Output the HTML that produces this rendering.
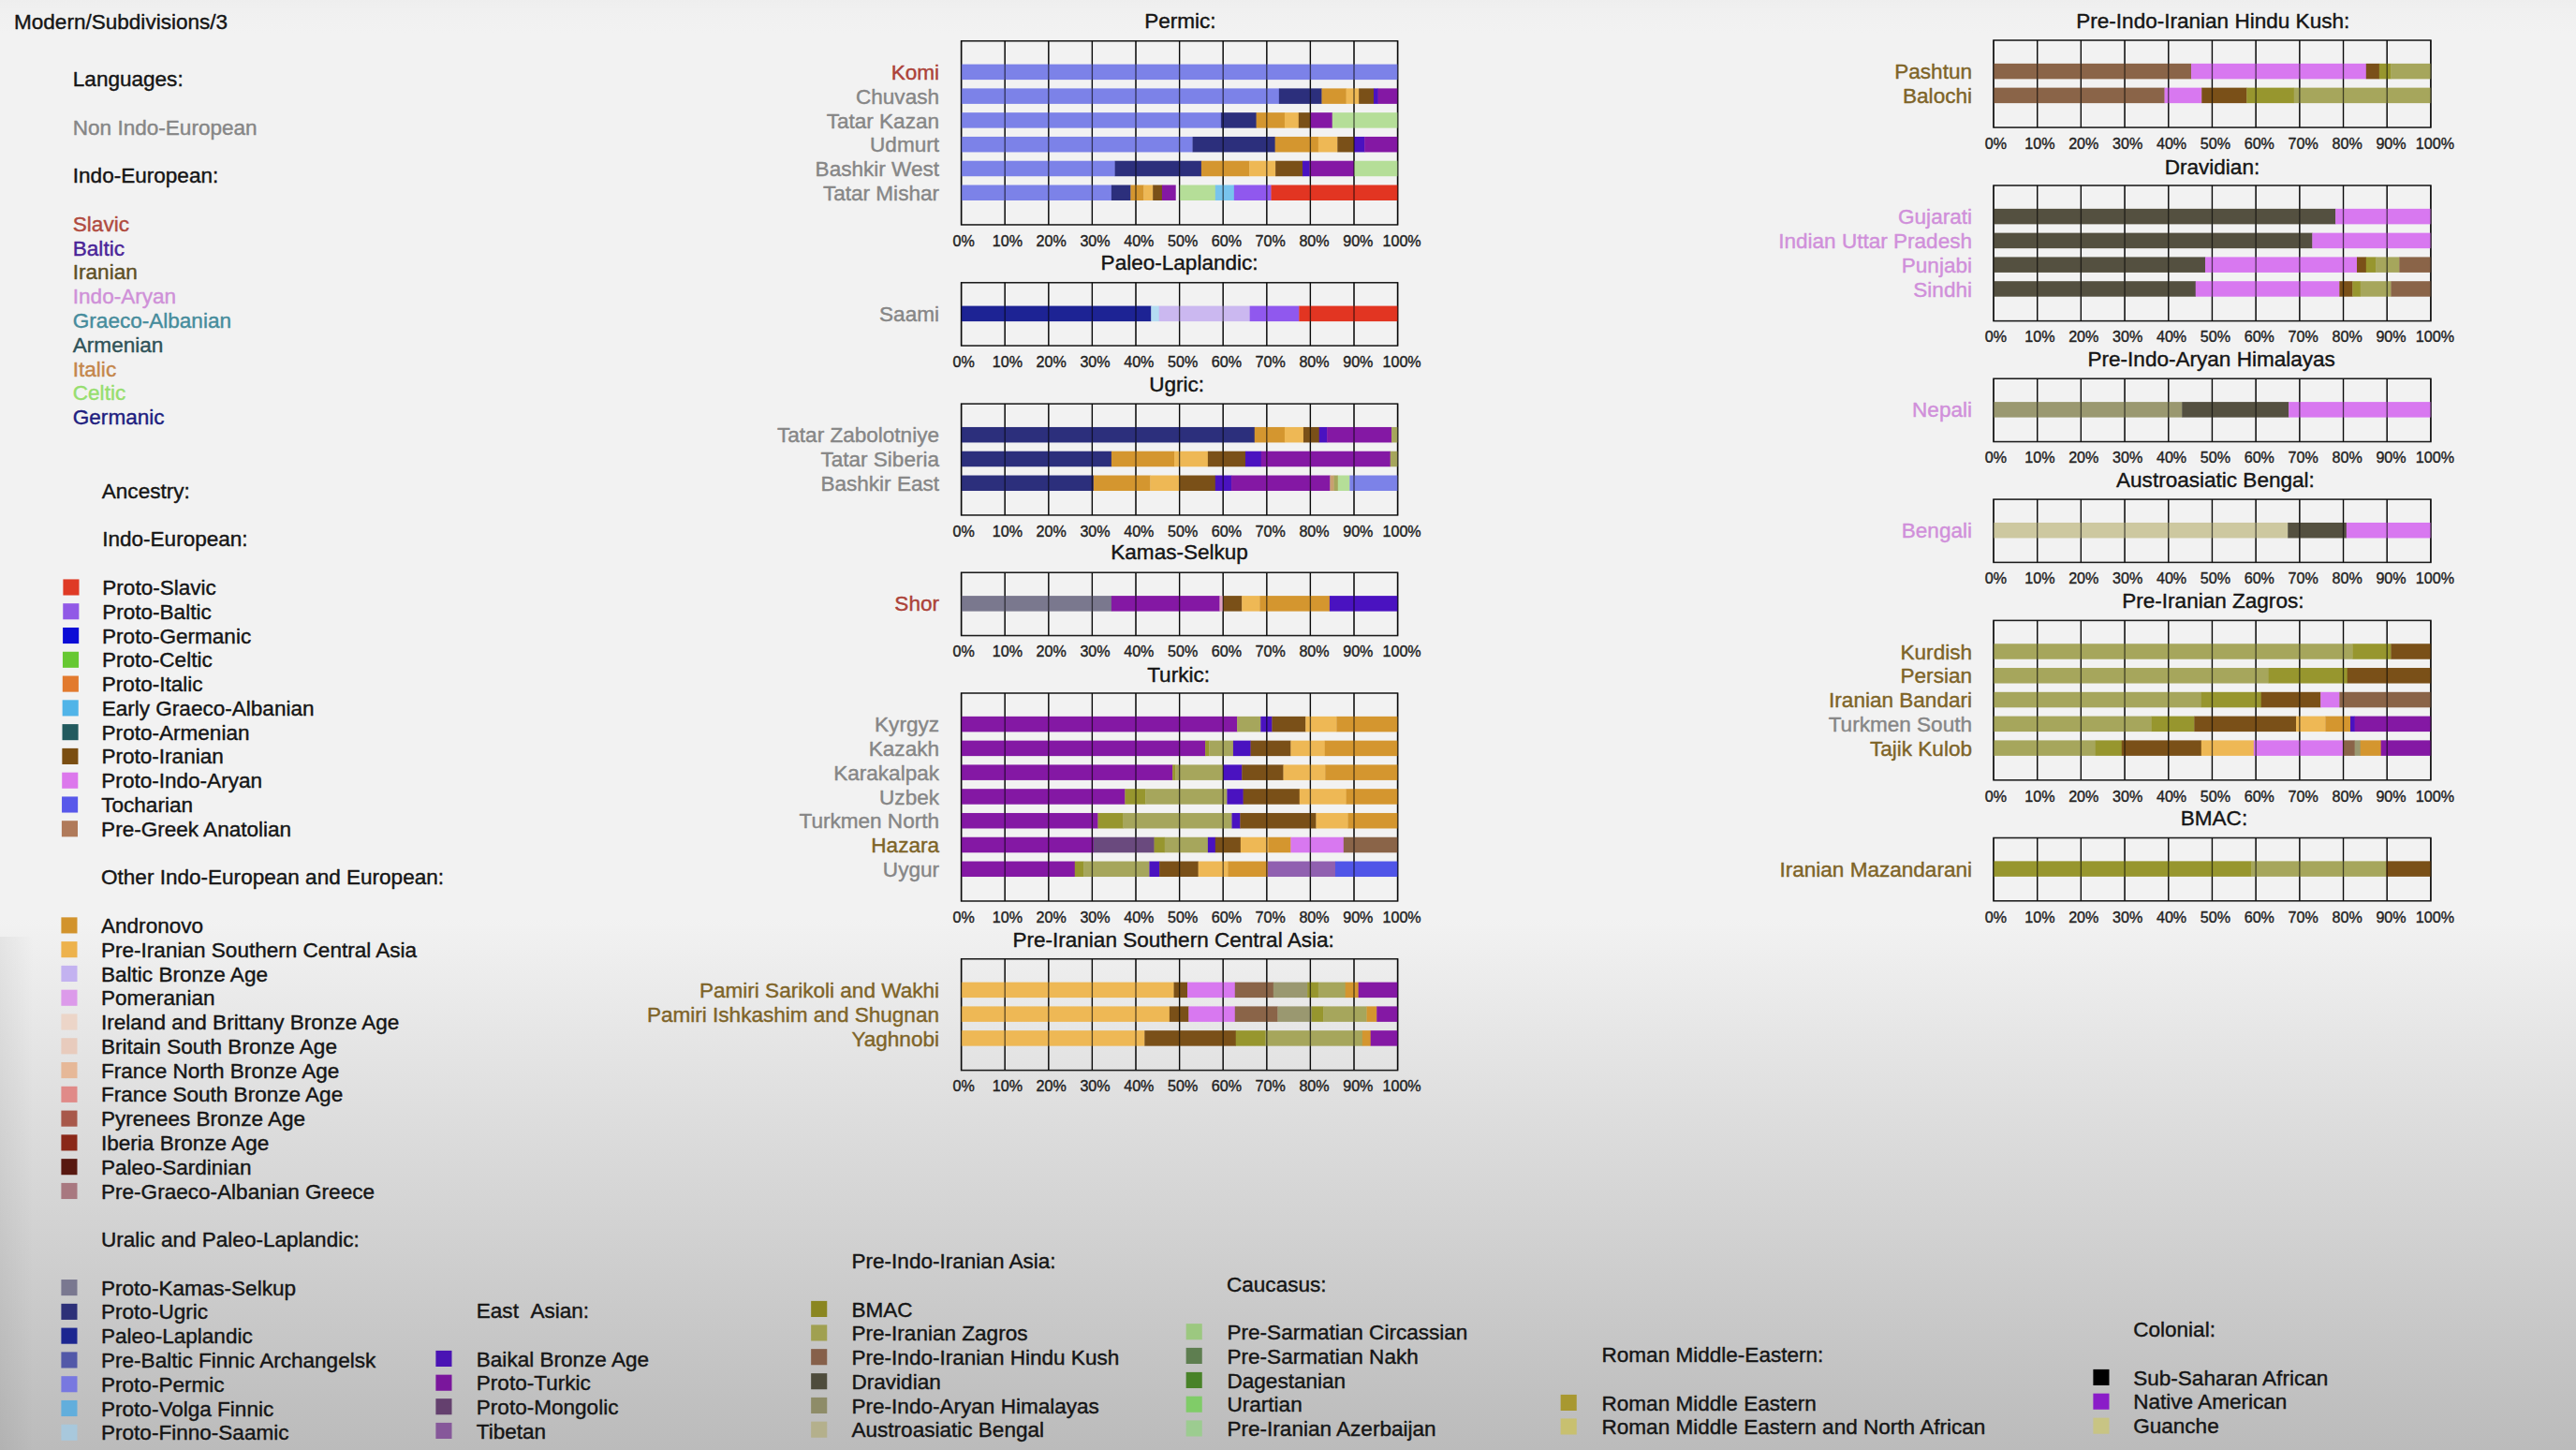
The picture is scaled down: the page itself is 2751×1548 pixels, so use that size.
<!DOCTYPE html>
<html><head><meta charset="utf-8"><title>Modern/Subdivisions/3</title>
<style>
html,body{margin:0;padding:0}
body{width:2751px;height:1548px;overflow:hidden;background:#f2f2f2}
#bg{position:absolute;left:0;top:0;width:2751px;height:1548px;background:linear-gradient(to bottom,#eeeeee 0px,#f0f0f0 10px,#f2f2f2 36px,#f2f2f2 980px,#bbbbbb 1548px)}
#vg{position:absolute;left:0;top:1000px;width:36px;height:548px;background:linear-gradient(to right,rgba(0,0,0,0.05),rgba(0,0,0,0))}
svg{position:absolute;left:0;top:0;font-family:"Liberation Sans", sans-serif}
text{stroke-width:0.4px;stroke-linejoin:round}
</style></head><body>
<div id="bg"></div><div id="vg"></div>
<svg width="2751" height="1548" viewBox="0 0 2751 1548">
<text x="1260.40" y="30.00" fill="#151515" stroke="#151515" font-size="22.55" text-anchor="middle">Permic:</text>
<path d="M1073.20 43.75V239.95M1119.80 43.75V239.95M1166.40 43.75V239.95M1213.00 43.75V239.95M1259.60 43.75V239.95M1306.20 43.75V239.95M1352.80 43.75V239.95M1399.40 43.75V239.95M1446.00 43.75V239.95" stroke="#1c1c1c" stroke-width="1.25" fill="none"/>
<rect x="1026.60" y="43.75" width="466.00" height="196.20" stroke="#1c1c1c" stroke-width="1.55" fill="none"/>
<text x="1003.00" y="84.95" fill="#ac4238" stroke="#ac4238" font-size="22.55" text-anchor="end">Komi</text>
<rect x="1026.60" y="68.60" width="466.30" height="16.5" fill="#7c82e8"/>
<text x="1003.00" y="110.73" fill="#868686" stroke="#868686" font-size="22.55" text-anchor="end">Chuvash</text>
<rect x="1026.60" y="94.38" width="339.55" height="16.5" fill="#7c82e8"/>
<rect x="1365.85" y="94.38" width="45.97" height="16.5" fill="#2c2f7c"/>
<rect x="1411.52" y="94.38" width="26.40" height="16.5" fill="#d4962f"/>
<rect x="1437.61" y="94.38" width="13.81" height="16.5" fill="#eeb855"/>
<rect x="1451.13" y="94.38" width="16.14" height="16.5" fill="#7a5018"/>
<rect x="1466.97" y="94.38" width="4.96" height="16.5" fill="#4a12c0"/>
<rect x="1471.63" y="94.38" width="21.27" height="16.5" fill="#8418a4"/>
<text x="1003.00" y="136.51" fill="#868686" stroke="#868686" font-size="22.55" text-anchor="end">Tatar Kazan</text>
<rect x="1026.60" y="120.16" width="277.57" height="16.5" fill="#7c82e8"/>
<rect x="1303.87" y="120.16" width="38.05" height="16.5" fill="#2c2f7c"/>
<rect x="1341.62" y="120.16" width="30.59" height="16.5" fill="#d4962f"/>
<rect x="1371.91" y="120.16" width="15.21" height="16.5" fill="#eeb855"/>
<rect x="1386.82" y="120.16" width="12.88" height="16.5" fill="#7a5018"/>
<rect x="1399.40" y="120.16" width="23.60" height="16.5" fill="#8418a4"/>
<rect x="1422.70" y="120.16" width="70.20" height="16.5" fill="#b5de98"/>
<text x="1003.00" y="162.29" fill="#868686" stroke="#868686" font-size="22.55" text-anchor="end">Udmurt</text>
<rect x="1026.60" y="145.94" width="247.28" height="16.5" fill="#7c82e8"/>
<rect x="1273.58" y="145.94" width="88.37" height="16.5" fill="#2c2f7c"/>
<rect x="1361.65" y="145.94" width="46.43" height="16.5" fill="#d4962f"/>
<rect x="1407.79" y="145.94" width="20.80" height="16.5" fill="#eeb855"/>
<rect x="1428.29" y="145.94" width="18.01" height="16.5" fill="#7a5018"/>
<rect x="1446.00" y="145.94" width="11.48" height="16.5" fill="#4a12c0"/>
<rect x="1457.18" y="145.94" width="35.72" height="16.5" fill="#8418a4"/>
<text x="1003.00" y="188.07" fill="#868686" stroke="#868686" font-size="22.55" text-anchor="end">Bashkir West</text>
<rect x="1026.60" y="171.72" width="164.33" height="16.5" fill="#7c82e8"/>
<rect x="1190.63" y="171.72" width="92.57" height="16.5" fill="#2c2f7c"/>
<rect x="1282.90" y="171.72" width="51.56" height="16.5" fill="#d4962f"/>
<rect x="1334.16" y="171.72" width="28.26" height="16.5" fill="#eeb855"/>
<rect x="1362.12" y="171.72" width="29.19" height="16.5" fill="#7a5018"/>
<rect x="1391.01" y="171.72" width="7.76" height="16.5" fill="#4a12c0"/>
<rect x="1398.47" y="171.72" width="47.83" height="16.5" fill="#8418a4"/>
<rect x="1446.00" y="171.72" width="46.90" height="16.5" fill="#b5de98"/>
<text x="1003.00" y="213.85" fill="#868686" stroke="#868686" font-size="22.55" text-anchor="end">Tatar Mishar</text>
<rect x="1026.60" y="197.50" width="160.60" height="16.5" fill="#7c82e8"/>
<rect x="1186.90" y="197.50" width="20.80" height="16.5" fill="#2c2f7c"/>
<rect x="1207.41" y="197.50" width="14.28" height="16.5" fill="#d4962f"/>
<rect x="1221.39" y="197.50" width="10.09" height="16.5" fill="#eeb855"/>
<rect x="1231.17" y="197.50" width="10.09" height="16.5" fill="#7a5018"/>
<rect x="1240.96" y="197.50" width="14.75" height="16.5" fill="#8418a4"/>
<rect x="1259.60" y="197.50" width="38.51" height="16.5" fill="#b5de98"/>
<rect x="1297.81" y="197.50" width="20.34" height="16.5" fill="#78c4ee"/>
<rect x="1317.85" y="197.50" width="39.91" height="16.5" fill="#9058ee"/>
<rect x="1357.46" y="197.50" width="135.44" height="16.5" fill="#e23522"/>
<path d="M1073.20 43.75V239.95M1119.80 43.75V239.95M1166.40 43.75V239.95M1213.00 43.75V239.95M1259.60 43.75V239.95M1306.20 43.75V239.95M1352.80 43.75V239.95M1399.40 43.75V239.95M1446.00 43.75V239.95M1492.60 43.75V239.95M1026.60 43.75V239.95" stroke="#000" stroke-opacity="0.62" stroke-width="1.3" fill="none"/>
<text x="1029.10" y="262.75" fill="#222" stroke="#222" font-size="16.1" text-anchor="middle">0%</text>
<text x="1075.90" y="262.75" fill="#222" stroke="#222" font-size="16.1" text-anchor="middle">10%</text>
<text x="1122.70" y="262.75" fill="#222" stroke="#222" font-size="16.1" text-anchor="middle">20%</text>
<text x="1169.50" y="262.75" fill="#222" stroke="#222" font-size="16.1" text-anchor="middle">30%</text>
<text x="1216.30" y="262.75" fill="#222" stroke="#222" font-size="16.1" text-anchor="middle">40%</text>
<text x="1263.10" y="262.75" fill="#222" stroke="#222" font-size="16.1" text-anchor="middle">50%</text>
<text x="1309.90" y="262.75" fill="#222" stroke="#222" font-size="16.1" text-anchor="middle">60%</text>
<text x="1356.70" y="262.75" fill="#222" stroke="#222" font-size="16.1" text-anchor="middle">70%</text>
<text x="1403.50" y="262.75" fill="#222" stroke="#222" font-size="16.1" text-anchor="middle">80%</text>
<text x="1450.30" y="262.75" fill="#222" stroke="#222" font-size="16.1" text-anchor="middle">90%</text>
<text x="1497.10" y="262.75" fill="#222" stroke="#222" font-size="16.1" text-anchor="middle">100%</text>
<text x="1259.60" y="288.00" fill="#151515" stroke="#151515" font-size="22.55" text-anchor="middle">Paleo-Laplandic:</text>
<path d="M1073.20 301.75V369.05M1119.80 301.75V369.05M1166.40 301.75V369.05M1213.00 301.75V369.05M1259.60 301.75V369.05M1306.20 301.75V369.05M1352.80 301.75V369.05M1399.40 301.75V369.05M1446.00 301.75V369.05" stroke="#1c1c1c" stroke-width="1.25" fill="none"/>
<rect x="1026.60" y="301.75" width="466.00" height="67.30" stroke="#1c1c1c" stroke-width="1.55" fill="none"/>
<text x="1003.00" y="342.95" fill="#868686" stroke="#868686" font-size="22.55" text-anchor="end">Saami</text>
<rect x="1026.60" y="326.60" width="203.01" height="16.5" fill="#1d2394"/>
<rect x="1229.31" y="326.60" width="8.69" height="16.5" fill="#b5dcf2"/>
<rect x="1237.70" y="326.60" width="97.23" height="16.5" fill="#cbb8f0"/>
<rect x="1334.63" y="326.60" width="52.96" height="16.5" fill="#9058ee"/>
<rect x="1387.28" y="326.60" width="105.62" height="16.5" fill="#e23522"/>
<path d="M1073.20 301.75V369.05M1119.80 301.75V369.05M1166.40 301.75V369.05M1213.00 301.75V369.05M1259.60 301.75V369.05M1306.20 301.75V369.05M1352.80 301.75V369.05M1399.40 301.75V369.05M1446.00 301.75V369.05M1492.60 301.75V369.05M1026.60 301.75V369.05" stroke="#000" stroke-opacity="0.62" stroke-width="1.3" fill="none"/>
<text x="1029.10" y="391.85" fill="#222" stroke="#222" font-size="16.1" text-anchor="middle">0%</text>
<text x="1075.90" y="391.85" fill="#222" stroke="#222" font-size="16.1" text-anchor="middle">10%</text>
<text x="1122.70" y="391.85" fill="#222" stroke="#222" font-size="16.1" text-anchor="middle">20%</text>
<text x="1169.50" y="391.85" fill="#222" stroke="#222" font-size="16.1" text-anchor="middle">30%</text>
<text x="1216.30" y="391.85" fill="#222" stroke="#222" font-size="16.1" text-anchor="middle">40%</text>
<text x="1263.10" y="391.85" fill="#222" stroke="#222" font-size="16.1" text-anchor="middle">50%</text>
<text x="1309.90" y="391.85" fill="#222" stroke="#222" font-size="16.1" text-anchor="middle">60%</text>
<text x="1356.70" y="391.85" fill="#222" stroke="#222" font-size="16.1" text-anchor="middle">70%</text>
<text x="1403.50" y="391.85" fill="#222" stroke="#222" font-size="16.1" text-anchor="middle">80%</text>
<text x="1450.30" y="391.85" fill="#222" stroke="#222" font-size="16.1" text-anchor="middle">90%</text>
<text x="1497.10" y="391.85" fill="#222" stroke="#222" font-size="16.1" text-anchor="middle">100%</text>
<text x="1256.60" y="417.50" fill="#151515" stroke="#151515" font-size="22.55" text-anchor="middle">Ugric:</text>
<path d="M1073.20 431.10V549.96M1119.80 431.10V549.96M1166.40 431.10V549.96M1213.00 431.10V549.96M1259.60 431.10V549.96M1306.20 431.10V549.96M1352.80 431.10V549.96M1399.40 431.10V549.96M1446.00 431.10V549.96" stroke="#1c1c1c" stroke-width="1.25" fill="none"/>
<rect x="1026.60" y="431.10" width="466.00" height="118.86" stroke="#1c1c1c" stroke-width="1.55" fill="none"/>
<text x="1003.00" y="472.30" fill="#868686" stroke="#868686" font-size="22.55" text-anchor="end">Tatar Zabolotniye</text>
<rect x="1026.60" y="455.95" width="313.45" height="16.5" fill="#2c2f7c"/>
<rect x="1339.75" y="455.95" width="32.45" height="16.5" fill="#d4962f"/>
<rect x="1371.91" y="455.95" width="20.34" height="16.5" fill="#eeb855"/>
<rect x="1391.94" y="455.95" width="17.08" height="16.5" fill="#7a5018"/>
<rect x="1408.72" y="455.95" width="8.69" height="16.5" fill="#4a12c0"/>
<rect x="1417.11" y="455.95" width="69.27" height="16.5" fill="#8418a4"/>
<rect x="1486.08" y="455.95" width="6.82" height="16.5" fill="#a6a65c"/>
<text x="1003.00" y="498.08" fill="#868686" stroke="#868686" font-size="22.55" text-anchor="end">Tatar Siberia</text>
<rect x="1026.60" y="481.73" width="160.60" height="16.5" fill="#2c2f7c"/>
<rect x="1186.90" y="481.73" width="67.40" height="16.5" fill="#d4962f"/>
<rect x="1254.01" y="481.73" width="36.18" height="16.5" fill="#eeb855"/>
<rect x="1289.89" y="481.73" width="40.38" height="16.5" fill="#7a5018"/>
<rect x="1329.97" y="481.73" width="17.08" height="16.5" fill="#4a12c0"/>
<rect x="1346.74" y="481.73" width="138.24" height="16.5" fill="#8418a4"/>
<rect x="1484.68" y="481.73" width="8.22" height="16.5" fill="#a6a65c"/>
<text x="1003.00" y="523.86" fill="#868686" stroke="#868686" font-size="22.55" text-anchor="end">Bashkir East</text>
<rect x="1026.60" y="507.51" width="141.50" height="16.5" fill="#2c2f7c"/>
<rect x="1167.80" y="507.51" width="60.88" height="16.5" fill="#d4962f"/>
<rect x="1228.38" y="507.51" width="31.52" height="16.5" fill="#eeb855"/>
<rect x="1259.60" y="507.51" width="38.51" height="16.5" fill="#7a5018"/>
<rect x="1297.81" y="507.51" width="17.54" height="16.5" fill="#4a12c0"/>
<rect x="1315.05" y="507.51" width="105.62" height="16.5" fill="#8418a4"/>
<rect x="1420.37" y="507.51" width="4.49" height="16.5" fill="#c8a070"/>
<rect x="1424.56" y="507.51" width="4.49" height="16.5" fill="#a6a65c"/>
<rect x="1428.76" y="507.51" width="12.88" height="16.5" fill="#b5de98"/>
<rect x="1441.34" y="507.51" width="51.56" height="16.5" fill="#7c82e8"/>
<path d="M1073.20 431.10V549.96M1119.80 431.10V549.96M1166.40 431.10V549.96M1213.00 431.10V549.96M1259.60 431.10V549.96M1306.20 431.10V549.96M1352.80 431.10V549.96M1399.40 431.10V549.96M1446.00 431.10V549.96M1492.60 431.10V549.96M1026.60 431.10V549.96" stroke="#000" stroke-opacity="0.62" stroke-width="1.3" fill="none"/>
<text x="1029.10" y="572.76" fill="#222" stroke="#222" font-size="16.1" text-anchor="middle">0%</text>
<text x="1075.90" y="572.76" fill="#222" stroke="#222" font-size="16.1" text-anchor="middle">10%</text>
<text x="1122.70" y="572.76" fill="#222" stroke="#222" font-size="16.1" text-anchor="middle">20%</text>
<text x="1169.50" y="572.76" fill="#222" stroke="#222" font-size="16.1" text-anchor="middle">30%</text>
<text x="1216.30" y="572.76" fill="#222" stroke="#222" font-size="16.1" text-anchor="middle">40%</text>
<text x="1263.10" y="572.76" fill="#222" stroke="#222" font-size="16.1" text-anchor="middle">50%</text>
<text x="1309.90" y="572.76" fill="#222" stroke="#222" font-size="16.1" text-anchor="middle">60%</text>
<text x="1356.70" y="572.76" fill="#222" stroke="#222" font-size="16.1" text-anchor="middle">70%</text>
<text x="1403.50" y="572.76" fill="#222" stroke="#222" font-size="16.1" text-anchor="middle">80%</text>
<text x="1450.30" y="572.76" fill="#222" stroke="#222" font-size="16.1" text-anchor="middle">90%</text>
<text x="1497.10" y="572.76" fill="#222" stroke="#222" font-size="16.1" text-anchor="middle">100%</text>
<text x="1259.60" y="597.00" fill="#151515" stroke="#151515" font-size="22.55" text-anchor="middle">Kamas-Selkup</text>
<path d="M1073.20 611.25V678.55M1119.80 611.25V678.55M1166.40 611.25V678.55M1213.00 611.25V678.55M1259.60 611.25V678.55M1306.20 611.25V678.55M1352.80 611.25V678.55M1399.40 611.25V678.55M1446.00 611.25V678.55" stroke="#1c1c1c" stroke-width="1.25" fill="none"/>
<rect x="1026.60" y="611.25" width="466.00" height="67.30" stroke="#1c1c1c" stroke-width="1.55" fill="none"/>
<text x="1003.00" y="652.45" fill="#ac4238" stroke="#ac4238" font-size="22.55" text-anchor="end">Shor</text>
<rect x="1026.60" y="636.10" width="160.60" height="16.5" fill="#7a788e"/>
<rect x="1186.90" y="636.10" width="115.87" height="16.5" fill="#8418a4"/>
<rect x="1302.47" y="636.10" width="4.03" height="16.5" fill="#e0a0c0"/>
<rect x="1306.20" y="636.10" width="20.34" height="16.5" fill="#7a5018"/>
<rect x="1326.24" y="636.10" width="19.41" height="16.5" fill="#eeb855"/>
<rect x="1345.34" y="636.10" width="74.86" height="16.5" fill="#d4962f"/>
<rect x="1419.90" y="636.10" width="73.00" height="16.5" fill="#4a12c0"/>
<path d="M1073.20 611.25V678.55M1119.80 611.25V678.55M1166.40 611.25V678.55M1213.00 611.25V678.55M1259.60 611.25V678.55M1306.20 611.25V678.55M1352.80 611.25V678.55M1399.40 611.25V678.55M1446.00 611.25V678.55M1492.60 611.25V678.55M1026.60 611.25V678.55" stroke="#000" stroke-opacity="0.62" stroke-width="1.3" fill="none"/>
<text x="1029.10" y="701.35" fill="#222" stroke="#222" font-size="16.1" text-anchor="middle">0%</text>
<text x="1075.90" y="701.35" fill="#222" stroke="#222" font-size="16.1" text-anchor="middle">10%</text>
<text x="1122.70" y="701.35" fill="#222" stroke="#222" font-size="16.1" text-anchor="middle">20%</text>
<text x="1169.50" y="701.35" fill="#222" stroke="#222" font-size="16.1" text-anchor="middle">30%</text>
<text x="1216.30" y="701.35" fill="#222" stroke="#222" font-size="16.1" text-anchor="middle">40%</text>
<text x="1263.10" y="701.35" fill="#222" stroke="#222" font-size="16.1" text-anchor="middle">50%</text>
<text x="1309.90" y="701.35" fill="#222" stroke="#222" font-size="16.1" text-anchor="middle">60%</text>
<text x="1356.70" y="701.35" fill="#222" stroke="#222" font-size="16.1" text-anchor="middle">70%</text>
<text x="1403.50" y="701.35" fill="#222" stroke="#222" font-size="16.1" text-anchor="middle">80%</text>
<text x="1450.30" y="701.35" fill="#222" stroke="#222" font-size="16.1" text-anchor="middle">90%</text>
<text x="1497.10" y="701.35" fill="#222" stroke="#222" font-size="16.1" text-anchor="middle">100%</text>
<text x="1258.60" y="727.50" fill="#151515" stroke="#151515" font-size="22.55" text-anchor="middle">Turkic:</text>
<path d="M1073.20 740.00V961.98M1119.80 740.00V961.98M1166.40 740.00V961.98M1213.00 740.00V961.98M1259.60 740.00V961.98M1306.20 740.00V961.98M1352.80 740.00V961.98M1399.40 740.00V961.98M1446.00 740.00V961.98" stroke="#1c1c1c" stroke-width="1.25" fill="none"/>
<rect x="1026.60" y="740.00" width="466.00" height="221.98" stroke="#1c1c1c" stroke-width="1.55" fill="none"/>
<text x="1003.00" y="781.20" fill="#868686" stroke="#868686" font-size="22.55" text-anchor="end">Kyrgyz</text>
<rect x="1026.60" y="764.85" width="294.81" height="16.5" fill="#8418a4"/>
<rect x="1321.11" y="764.85" width="25.46" height="16.5" fill="#a6a65c"/>
<rect x="1346.28" y="764.85" width="12.42" height="16.5" fill="#4a12c0"/>
<rect x="1358.39" y="764.85" width="36.18" height="16.5" fill="#7a5018"/>
<rect x="1394.27" y="764.85" width="33.39" height="16.5" fill="#eeb855"/>
<rect x="1427.36" y="764.85" width="65.54" height="16.5" fill="#d4962f"/>
<text x="1003.00" y="806.98" fill="#868686" stroke="#868686" font-size="22.55" text-anchor="end">Kazakh</text>
<rect x="1026.60" y="790.63" width="260.79" height="16.5" fill="#8418a4"/>
<rect x="1287.09" y="790.63" width="4.49" height="16.5" fill="#97962e"/>
<rect x="1291.29" y="790.63" width="25.93" height="16.5" fill="#a6a65c"/>
<rect x="1316.92" y="790.63" width="18.94" height="16.5" fill="#4a12c0"/>
<rect x="1335.56" y="790.63" width="43.17" height="16.5" fill="#7a5018"/>
<rect x="1378.43" y="790.63" width="36.65" height="16.5" fill="#eeb855"/>
<rect x="1414.78" y="790.63" width="78.12" height="16.5" fill="#d4962f"/>
<text x="1003.00" y="832.76" fill="#868686" stroke="#868686" font-size="22.55" text-anchor="end">Karakalpak</text>
<rect x="1026.60" y="816.41" width="225.84" height="16.5" fill="#8418a4"/>
<rect x="1252.14" y="816.41" width="3.56" height="16.5" fill="#97962e"/>
<rect x="1255.41" y="816.41" width="51.09" height="16.5" fill="#a6a65c"/>
<rect x="1306.20" y="816.41" width="20.34" height="16.5" fill="#4a12c0"/>
<rect x="1326.24" y="816.41" width="44.57" height="16.5" fill="#7a5018"/>
<rect x="1370.51" y="816.41" width="45.04" height="16.5" fill="#eeb855"/>
<rect x="1415.24" y="816.41" width="77.66" height="16.5" fill="#d4962f"/>
<text x="1003.00" y="858.54" fill="#868686" stroke="#868686" font-size="22.55" text-anchor="end">Uzbek</text>
<rect x="1026.60" y="842.19" width="175.05" height="16.5" fill="#8418a4"/>
<rect x="1201.35" y="842.19" width="22.20" height="16.5" fill="#97962e"/>
<rect x="1223.25" y="842.19" width="87.44" height="16.5" fill="#a6a65c"/>
<rect x="1310.39" y="842.19" width="17.54" height="16.5" fill="#4a12c0"/>
<rect x="1327.64" y="842.19" width="60.41" height="16.5" fill="#7a5018"/>
<rect x="1387.75" y="842.19" width="50.16" height="16.5" fill="#eeb855"/>
<rect x="1437.61" y="842.19" width="55.29" height="16.5" fill="#d4962f"/>
<text x="1003.00" y="884.32" fill="#868686" stroke="#868686" font-size="22.55" text-anchor="end">Turkmen North</text>
<rect x="1026.60" y="867.97" width="146.16" height="16.5" fill="#8418a4"/>
<rect x="1172.46" y="867.97" width="27.33" height="16.5" fill="#97962e"/>
<rect x="1199.49" y="867.97" width="116.33" height="16.5" fill="#a6a65c"/>
<rect x="1315.52" y="867.97" width="9.15" height="16.5" fill="#4a12c0"/>
<rect x="1324.37" y="867.97" width="81.38" height="16.5" fill="#7a5018"/>
<rect x="1405.46" y="867.97" width="34.32" height="16.5" fill="#eeb855"/>
<rect x="1439.48" y="867.97" width="53.42" height="16.5" fill="#d4962f"/>
<text x="1003.00" y="910.10" fill="#7e6428" stroke="#7e6428" font-size="22.55" text-anchor="end">Hazara</text>
<rect x="1026.60" y="893.75" width="141.50" height="16.5" fill="#8418a4"/>
<rect x="1167.80" y="893.75" width="65.07" height="16.5" fill="#6a4a7e"/>
<rect x="1232.57" y="893.75" width="11.48" height="16.5" fill="#97962e"/>
<rect x="1243.76" y="893.75" width="46.43" height="16.5" fill="#a6a65c"/>
<rect x="1289.89" y="893.75" width="8.22" height="16.5" fill="#4a12c0"/>
<rect x="1297.81" y="893.75" width="27.33" height="16.5" fill="#7a5018"/>
<rect x="1324.84" y="893.75" width="30.12" height="16.5" fill="#eeb855"/>
<rect x="1354.66" y="893.75" width="24.07" height="16.5" fill="#d4962f"/>
<rect x="1378.43" y="893.75" width="56.69" height="16.5" fill="#d878f0"/>
<rect x="1434.82" y="893.75" width="58.08" height="16.5" fill="#8a6448"/>
<text x="1003.00" y="935.88" fill="#868686" stroke="#868686" font-size="22.55" text-anchor="end">Uygur</text>
<rect x="1026.60" y="919.53" width="121.46" height="16.5" fill="#8418a4"/>
<rect x="1147.76" y="919.53" width="9.62" height="16.5" fill="#97962e"/>
<rect x="1157.08" y="919.53" width="70.67" height="16.5" fill="#a6a65c"/>
<rect x="1227.45" y="919.53" width="11.02" height="16.5" fill="#4a12c0"/>
<rect x="1238.16" y="919.53" width="41.77" height="16.5" fill="#7a5018"/>
<rect x="1279.64" y="919.53" width="31.99" height="16.5" fill="#eeb855"/>
<rect x="1311.33" y="919.53" width="42.71" height="16.5" fill="#d4962f"/>
<rect x="1353.73" y="919.53" width="72.53" height="16.5" fill="#9060b0"/>
<rect x="1425.96" y="919.53" width="66.94" height="16.5" fill="#5055e8"/>
<path d="M1073.20 740.00V961.98M1119.80 740.00V961.98M1166.40 740.00V961.98M1213.00 740.00V961.98M1259.60 740.00V961.98M1306.20 740.00V961.98M1352.80 740.00V961.98M1399.40 740.00V961.98M1446.00 740.00V961.98M1492.60 740.00V961.98M1026.60 740.00V961.98" stroke="#000" stroke-opacity="0.62" stroke-width="1.3" fill="none"/>
<text x="1029.10" y="984.78" fill="#222" stroke="#222" font-size="16.1" text-anchor="middle">0%</text>
<text x="1075.90" y="984.78" fill="#222" stroke="#222" font-size="16.1" text-anchor="middle">10%</text>
<text x="1122.70" y="984.78" fill="#222" stroke="#222" font-size="16.1" text-anchor="middle">20%</text>
<text x="1169.50" y="984.78" fill="#222" stroke="#222" font-size="16.1" text-anchor="middle">30%</text>
<text x="1216.30" y="984.78" fill="#222" stroke="#222" font-size="16.1" text-anchor="middle">40%</text>
<text x="1263.10" y="984.78" fill="#222" stroke="#222" font-size="16.1" text-anchor="middle">50%</text>
<text x="1309.90" y="984.78" fill="#222" stroke="#222" font-size="16.1" text-anchor="middle">60%</text>
<text x="1356.70" y="984.78" fill="#222" stroke="#222" font-size="16.1" text-anchor="middle">70%</text>
<text x="1403.50" y="984.78" fill="#222" stroke="#222" font-size="16.1" text-anchor="middle">80%</text>
<text x="1450.30" y="984.78" fill="#222" stroke="#222" font-size="16.1" text-anchor="middle">90%</text>
<text x="1497.10" y="984.78" fill="#222" stroke="#222" font-size="16.1" text-anchor="middle">100%</text>
<text x="1253.10" y="1010.50" fill="#151515" stroke="#151515" font-size="22.55" text-anchor="middle">Pre-Iranian Southern Central Asia:</text>
<path d="M1073.20 1023.75V1142.61M1119.80 1023.75V1142.61M1166.40 1023.75V1142.61M1213.00 1023.75V1142.61M1259.60 1023.75V1142.61M1306.20 1023.75V1142.61M1352.80 1023.75V1142.61M1399.40 1023.75V1142.61M1446.00 1023.75V1142.61" stroke="#1c1c1c" stroke-width="1.25" fill="none"/>
<rect x="1026.60" y="1023.75" width="466.00" height="118.86" stroke="#1c1c1c" stroke-width="1.55" fill="none"/>
<text x="1003.00" y="1064.95" fill="#7e6428" stroke="#7e6428" font-size="22.55" text-anchor="end">Pamiri Sarikoli and Wakhi</text>
<rect x="1026.60" y="1048.60" width="227.24" height="16.5" fill="#eeb855"/>
<rect x="1253.54" y="1048.60" width="14.75" height="16.5" fill="#7a5018"/>
<rect x="1267.99" y="1048.60" width="51.09" height="16.5" fill="#d878f0"/>
<rect x="1318.78" y="1048.60" width="41.31" height="16.5" fill="#8a6448"/>
<rect x="1359.79" y="1048.60" width="36.65" height="16.5" fill="#9a9870"/>
<rect x="1396.14" y="1048.60" width="11.95" height="16.5" fill="#97962e"/>
<rect x="1407.79" y="1048.60" width="29.19" height="16.5" fill="#a6a65c"/>
<rect x="1436.68" y="1048.60" width="14.28" height="16.5" fill="#d4962f"/>
<rect x="1450.66" y="1048.60" width="42.24" height="16.5" fill="#8418a4"/>
<text x="1003.00" y="1090.73" fill="#7e6428" stroke="#7e6428" font-size="22.55" text-anchor="end">Pamiri Ishkashim and Shugnan</text>
<rect x="1026.60" y="1074.38" width="222.58" height="16.5" fill="#eeb855"/>
<rect x="1248.88" y="1074.38" width="20.80" height="16.5" fill="#7a5018"/>
<rect x="1269.39" y="1074.38" width="49.70" height="16.5" fill="#d878f0"/>
<rect x="1318.78" y="1074.38" width="45.97" height="16.5" fill="#8a6448"/>
<rect x="1364.45" y="1074.38" width="36.65" height="16.5" fill="#9a9870"/>
<rect x="1400.80" y="1074.38" width="12.88" height="16.5" fill="#97962e"/>
<rect x="1413.38" y="1074.38" width="46.43" height="16.5" fill="#a6a65c"/>
<rect x="1459.51" y="1074.38" width="11.02" height="16.5" fill="#d4962f"/>
<rect x="1470.23" y="1074.38" width="22.67" height="16.5" fill="#8418a4"/>
<text x="1003.00" y="1116.51" fill="#7e6428" stroke="#7e6428" font-size="22.55" text-anchor="end">Yaghnobi</text>
<rect x="1026.60" y="1100.16" width="196.02" height="16.5" fill="#eeb855"/>
<rect x="1222.32" y="1100.16" width="97.69" height="16.5" fill="#7a5018"/>
<rect x="1319.71" y="1100.16" width="31.52" height="16.5" fill="#97962e"/>
<rect x="1350.94" y="1100.16" width="104.22" height="16.5" fill="#a6a65c"/>
<rect x="1454.85" y="1100.16" width="9.15" height="16.5" fill="#d4962f"/>
<rect x="1463.71" y="1100.16" width="29.19" height="16.5" fill="#8418a4"/>
<path d="M1073.20 1023.75V1142.61M1119.80 1023.75V1142.61M1166.40 1023.75V1142.61M1213.00 1023.75V1142.61M1259.60 1023.75V1142.61M1306.20 1023.75V1142.61M1352.80 1023.75V1142.61M1399.40 1023.75V1142.61M1446.00 1023.75V1142.61M1492.60 1023.75V1142.61M1026.60 1023.75V1142.61" stroke="#000" stroke-opacity="0.62" stroke-width="1.3" fill="none"/>
<text x="1029.10" y="1165.41" fill="#222" stroke="#222" font-size="16.1" text-anchor="middle">0%</text>
<text x="1075.90" y="1165.41" fill="#222" stroke="#222" font-size="16.1" text-anchor="middle">10%</text>
<text x="1122.70" y="1165.41" fill="#222" stroke="#222" font-size="16.1" text-anchor="middle">20%</text>
<text x="1169.50" y="1165.41" fill="#222" stroke="#222" font-size="16.1" text-anchor="middle">30%</text>
<text x="1216.30" y="1165.41" fill="#222" stroke="#222" font-size="16.1" text-anchor="middle">40%</text>
<text x="1263.10" y="1165.41" fill="#222" stroke="#222" font-size="16.1" text-anchor="middle">50%</text>
<text x="1309.90" y="1165.41" fill="#222" stroke="#222" font-size="16.1" text-anchor="middle">60%</text>
<text x="1356.70" y="1165.41" fill="#222" stroke="#222" font-size="16.1" text-anchor="middle">70%</text>
<text x="1403.50" y="1165.41" fill="#222" stroke="#222" font-size="16.1" text-anchor="middle">80%</text>
<text x="1450.30" y="1165.41" fill="#222" stroke="#222" font-size="16.1" text-anchor="middle">90%</text>
<text x="1497.10" y="1165.41" fill="#222" stroke="#222" font-size="16.1" text-anchor="middle">100%</text>
<text x="2363.25" y="30.00" fill="#151515" stroke="#151515" font-size="22.55" text-anchor="middle">Pre-Indo-Iranian Hindu Kush:</text>
<path d="M2175.69 43.00V136.08M2222.38 43.00V136.08M2269.07 43.00V136.08M2315.76 43.00V136.08M2362.45 43.00V136.08M2409.14 43.00V136.08M2455.83 43.00V136.08M2502.52 43.00V136.08M2549.21 43.00V136.08" stroke="#1c1c1c" stroke-width="1.25" fill="none"/>
<rect x="2129.00" y="43.00" width="466.90" height="93.08" stroke="#1c1c1c" stroke-width="1.55" fill="none"/>
<text x="2106.00" y="84.20" fill="#7e6428" stroke="#7e6428" font-size="22.55" text-anchor="end">Pashtun</text>
<rect x="2129.00" y="67.85" width="211.34" height="16.5" fill="#8a6448"/>
<rect x="2340.04" y="67.85" width="187.06" height="16.5" fill="#d878f0"/>
<rect x="2526.80" y="67.85" width="14.31" height="16.5" fill="#7a5018"/>
<rect x="2540.81" y="67.85" width="12.91" height="16.5" fill="#97962e"/>
<rect x="2553.41" y="67.85" width="42.79" height="16.5" fill="#a6a65c"/>
<text x="2106.00" y="109.98" fill="#7e6428" stroke="#7e6428" font-size="22.55" text-anchor="end">Balochi</text>
<rect x="2129.00" y="93.63" width="182.86" height="16.5" fill="#8a6448"/>
<rect x="2311.56" y="93.63" width="39.99" height="16.5" fill="#d878f0"/>
<rect x="2351.24" y="93.63" width="48.39" height="16.5" fill="#7a5018"/>
<rect x="2399.34" y="93.63" width="50.73" height="16.5" fill="#97962e"/>
<rect x="2449.76" y="93.63" width="146.44" height="16.5" fill="#a6a65c"/>
<path d="M2175.69 43.00V136.08M2222.38 43.00V136.08M2269.07 43.00V136.08M2315.76 43.00V136.08M2362.45 43.00V136.08M2409.14 43.00V136.08M2455.83 43.00V136.08M2502.52 43.00V136.08M2549.21 43.00V136.08M2595.90 43.00V136.08M2129.00 43.00V136.08" stroke="#000" stroke-opacity="0.62" stroke-width="1.3" fill="none"/>
<text x="2131.50" y="158.88" fill="#222" stroke="#222" font-size="16.1" text-anchor="middle">0%</text>
<text x="2178.39" y="158.88" fill="#222" stroke="#222" font-size="16.1" text-anchor="middle">10%</text>
<text x="2225.28" y="158.88" fill="#222" stroke="#222" font-size="16.1" text-anchor="middle">20%</text>
<text x="2272.17" y="158.88" fill="#222" stroke="#222" font-size="16.1" text-anchor="middle">30%</text>
<text x="2319.06" y="158.88" fill="#222" stroke="#222" font-size="16.1" text-anchor="middle">40%</text>
<text x="2365.95" y="158.88" fill="#222" stroke="#222" font-size="16.1" text-anchor="middle">50%</text>
<text x="2412.84" y="158.88" fill="#222" stroke="#222" font-size="16.1" text-anchor="middle">60%</text>
<text x="2459.73" y="158.88" fill="#222" stroke="#222" font-size="16.1" text-anchor="middle">70%</text>
<text x="2506.62" y="158.88" fill="#222" stroke="#222" font-size="16.1" text-anchor="middle">80%</text>
<text x="2553.51" y="158.88" fill="#222" stroke="#222" font-size="16.1" text-anchor="middle">90%</text>
<text x="2600.40" y="158.88" fill="#222" stroke="#222" font-size="16.1" text-anchor="middle">100%</text>
<text x="2362.45" y="185.50" fill="#151515" stroke="#151515" font-size="22.55" text-anchor="middle">Dravidian:</text>
<path d="M2175.69 198.00V342.64M2222.38 198.00V342.64M2269.07 198.00V342.64M2315.76 198.00V342.64M2362.45 198.00V342.64M2409.14 198.00V342.64M2455.83 198.00V342.64M2502.52 198.00V342.64M2549.21 198.00V342.64" stroke="#1c1c1c" stroke-width="1.25" fill="none"/>
<rect x="2129.00" y="198.00" width="466.90" height="144.64" stroke="#1c1c1c" stroke-width="1.55" fill="none"/>
<text x="2106.00" y="239.20" fill="#d08fda" stroke="#d08fda" font-size="22.55" text-anchor="end">Gujarati</text>
<rect x="2129.00" y="222.85" width="365.42" height="16.5" fill="#545040"/>
<rect x="2494.12" y="222.85" width="102.08" height="16.5" fill="#d878f0"/>
<text x="2106.00" y="264.98" fill="#d08fda" stroke="#d08fda" font-size="22.55" text-anchor="end">Indian Uttar Pradesh</text>
<rect x="2129.00" y="248.63" width="340.67" height="16.5" fill="#545040"/>
<rect x="2469.37" y="248.63" width="126.83" height="16.5" fill="#d878f0"/>
<text x="2106.00" y="290.76" fill="#d08fda" stroke="#d08fda" font-size="22.55" text-anchor="end">Punjabi</text>
<rect x="2129.00" y="274.41" width="226.28" height="16.5" fill="#545040"/>
<rect x="2354.98" y="274.41" width="162.31" height="16.5" fill="#d878f0"/>
<rect x="2516.99" y="274.41" width="10.10" height="16.5" fill="#7a5018"/>
<rect x="2526.80" y="274.41" width="10.57" height="16.5" fill="#97962e"/>
<rect x="2537.07" y="274.41" width="25.51" height="16.5" fill="#a6a65c"/>
<rect x="2562.28" y="274.41" width="33.92" height="16.5" fill="#8a6448"/>
<text x="2106.00" y="316.54" fill="#d08fda" stroke="#d08fda" font-size="22.55" text-anchor="end">Sindhi</text>
<rect x="2129.00" y="300.19" width="216.01" height="16.5" fill="#545040"/>
<rect x="2344.71" y="300.19" width="153.91" height="16.5" fill="#d878f0"/>
<rect x="2498.32" y="300.19" width="14.31" height="16.5" fill="#7a5018"/>
<rect x="2512.32" y="300.19" width="8.70" height="16.5" fill="#97962e"/>
<rect x="2520.73" y="300.19" width="32.98" height="16.5" fill="#a6a65c"/>
<rect x="2553.41" y="300.19" width="42.79" height="16.5" fill="#8a6448"/>
<path d="M2175.69 198.00V342.64M2222.38 198.00V342.64M2269.07 198.00V342.64M2315.76 198.00V342.64M2362.45 198.00V342.64M2409.14 198.00V342.64M2455.83 198.00V342.64M2502.52 198.00V342.64M2549.21 198.00V342.64M2595.90 198.00V342.64M2129.00 198.00V342.64" stroke="#000" stroke-opacity="0.62" stroke-width="1.3" fill="none"/>
<text x="2131.50" y="365.44" fill="#222" stroke="#222" font-size="16.1" text-anchor="middle">0%</text>
<text x="2178.39" y="365.44" fill="#222" stroke="#222" font-size="16.1" text-anchor="middle">10%</text>
<text x="2225.28" y="365.44" fill="#222" stroke="#222" font-size="16.1" text-anchor="middle">20%</text>
<text x="2272.17" y="365.44" fill="#222" stroke="#222" font-size="16.1" text-anchor="middle">30%</text>
<text x="2319.06" y="365.44" fill="#222" stroke="#222" font-size="16.1" text-anchor="middle">40%</text>
<text x="2365.95" y="365.44" fill="#222" stroke="#222" font-size="16.1" text-anchor="middle">50%</text>
<text x="2412.84" y="365.44" fill="#222" stroke="#222" font-size="16.1" text-anchor="middle">60%</text>
<text x="2459.73" y="365.44" fill="#222" stroke="#222" font-size="16.1" text-anchor="middle">70%</text>
<text x="2506.62" y="365.44" fill="#222" stroke="#222" font-size="16.1" text-anchor="middle">80%</text>
<text x="2553.51" y="365.44" fill="#222" stroke="#222" font-size="16.1" text-anchor="middle">90%</text>
<text x="2600.40" y="365.44" fill="#222" stroke="#222" font-size="16.1" text-anchor="middle">100%</text>
<text x="2361.70" y="390.75" fill="#151515" stroke="#151515" font-size="22.55" text-anchor="middle">Pre-Indo-Aryan Himalayas</text>
<path d="M2175.69 404.25V471.55M2222.38 404.25V471.55M2269.07 404.25V471.55M2315.76 404.25V471.55M2362.45 404.25V471.55M2409.14 404.25V471.55M2455.83 404.25V471.55M2502.52 404.25V471.55M2549.21 404.25V471.55" stroke="#1c1c1c" stroke-width="1.25" fill="none"/>
<rect x="2129.00" y="404.25" width="466.90" height="67.30" stroke="#1c1c1c" stroke-width="1.55" fill="none"/>
<text x="2106.00" y="445.45" fill="#d08fda" stroke="#d08fda" font-size="22.55" text-anchor="end">Nepali</text>
<rect x="2129.00" y="429.10" width="201.53" height="16.5" fill="#9a9870"/>
<rect x="2330.23" y="429.10" width="114.22" height="16.5" fill="#545040"/>
<rect x="2444.16" y="429.10" width="152.04" height="16.5" fill="#d878f0"/>
<path d="M2175.69 404.25V471.55M2222.38 404.25V471.55M2269.07 404.25V471.55M2315.76 404.25V471.55M2362.45 404.25V471.55M2409.14 404.25V471.55M2455.83 404.25V471.55M2502.52 404.25V471.55M2549.21 404.25V471.55M2595.90 404.25V471.55M2129.00 404.25V471.55" stroke="#000" stroke-opacity="0.62" stroke-width="1.3" fill="none"/>
<text x="2131.50" y="494.35" fill="#222" stroke="#222" font-size="16.1" text-anchor="middle">0%</text>
<text x="2178.39" y="494.35" fill="#222" stroke="#222" font-size="16.1" text-anchor="middle">10%</text>
<text x="2225.28" y="494.35" fill="#222" stroke="#222" font-size="16.1" text-anchor="middle">20%</text>
<text x="2272.17" y="494.35" fill="#222" stroke="#222" font-size="16.1" text-anchor="middle">30%</text>
<text x="2319.06" y="494.35" fill="#222" stroke="#222" font-size="16.1" text-anchor="middle">40%</text>
<text x="2365.95" y="494.35" fill="#222" stroke="#222" font-size="16.1" text-anchor="middle">50%</text>
<text x="2412.84" y="494.35" fill="#222" stroke="#222" font-size="16.1" text-anchor="middle">60%</text>
<text x="2459.73" y="494.35" fill="#222" stroke="#222" font-size="16.1" text-anchor="middle">70%</text>
<text x="2506.62" y="494.35" fill="#222" stroke="#222" font-size="16.1" text-anchor="middle">80%</text>
<text x="2553.51" y="494.35" fill="#222" stroke="#222" font-size="16.1" text-anchor="middle">90%</text>
<text x="2600.40" y="494.35" fill="#222" stroke="#222" font-size="16.1" text-anchor="middle">100%</text>
<text x="2365.95" y="520.00" fill="#151515" stroke="#151515" font-size="22.55" text-anchor="middle">Austroasiatic Bengal:</text>
<path d="M2175.69 533.10V600.40M2222.38 533.10V600.40M2269.07 533.10V600.40M2315.76 533.10V600.40M2362.45 533.10V600.40M2409.14 533.10V600.40M2455.83 533.10V600.40M2502.52 533.10V600.40M2549.21 533.10V600.40" stroke="#1c1c1c" stroke-width="1.25" fill="none"/>
<rect x="2129.00" y="533.10" width="466.90" height="67.30" stroke="#1c1c1c" stroke-width="1.55" fill="none"/>
<text x="2106.00" y="574.30" fill="#d08fda" stroke="#d08fda" font-size="22.55" text-anchor="end">Bengali</text>
<rect x="2129.00" y="557.95" width="314.52" height="16.5" fill="#cdc8a0"/>
<rect x="2443.22" y="557.95" width="62.86" height="16.5" fill="#545040"/>
<rect x="2505.79" y="557.95" width="90.41" height="16.5" fill="#d878f0"/>
<path d="M2175.69 533.10V600.40M2222.38 533.10V600.40M2269.07 533.10V600.40M2315.76 533.10V600.40M2362.45 533.10V600.40M2409.14 533.10V600.40M2455.83 533.10V600.40M2502.52 533.10V600.40M2549.21 533.10V600.40M2595.90 533.10V600.40M2129.00 533.10V600.40" stroke="#000" stroke-opacity="0.62" stroke-width="1.3" fill="none"/>
<text x="2131.50" y="623.20" fill="#222" stroke="#222" font-size="16.1" text-anchor="middle">0%</text>
<text x="2178.39" y="623.20" fill="#222" stroke="#222" font-size="16.1" text-anchor="middle">10%</text>
<text x="2225.28" y="623.20" fill="#222" stroke="#222" font-size="16.1" text-anchor="middle">20%</text>
<text x="2272.17" y="623.20" fill="#222" stroke="#222" font-size="16.1" text-anchor="middle">30%</text>
<text x="2319.06" y="623.20" fill="#222" stroke="#222" font-size="16.1" text-anchor="middle">40%</text>
<text x="2365.95" y="623.20" fill="#222" stroke="#222" font-size="16.1" text-anchor="middle">50%</text>
<text x="2412.84" y="623.20" fill="#222" stroke="#222" font-size="16.1" text-anchor="middle">60%</text>
<text x="2459.73" y="623.20" fill="#222" stroke="#222" font-size="16.1" text-anchor="middle">70%</text>
<text x="2506.62" y="623.20" fill="#222" stroke="#222" font-size="16.1" text-anchor="middle">80%</text>
<text x="2553.51" y="623.20" fill="#222" stroke="#222" font-size="16.1" text-anchor="middle">90%</text>
<text x="2600.40" y="623.20" fill="#222" stroke="#222" font-size="16.1" text-anchor="middle">100%</text>
<text x="2363.35" y="648.75" fill="#151515" stroke="#151515" font-size="22.55" text-anchor="middle">Pre-Iranian Zagros:</text>
<path d="M2175.69 662.40V832.82M2222.38 662.40V832.82M2269.07 662.40V832.82M2315.76 662.40V832.82M2362.45 662.40V832.82M2409.14 662.40V832.82M2455.83 662.40V832.82M2502.52 662.40V832.82M2549.21 662.40V832.82" stroke="#1c1c1c" stroke-width="1.25" fill="none"/>
<rect x="2129.00" y="662.40" width="466.90" height="170.42" stroke="#1c1c1c" stroke-width="1.55" fill="none"/>
<text x="2106.00" y="703.60" fill="#7e6428" stroke="#7e6428" font-size="22.55" text-anchor="end">Kurdish</text>
<rect x="2129.00" y="687.25" width="383.62" height="16.5" fill="#a6a65c"/>
<rect x="2512.32" y="687.25" width="41.39" height="16.5" fill="#97962e"/>
<rect x="2553.41" y="687.25" width="42.79" height="16.5" fill="#7a5018"/>
<text x="2106.00" y="729.38" fill="#7e6428" stroke="#7e6428" font-size="22.55" text-anchor="end">Persian</text>
<rect x="2129.00" y="713.03" width="293.98" height="16.5" fill="#a6a65c"/>
<rect x="2422.68" y="713.03" width="84.34" height="16.5" fill="#97962e"/>
<rect x="2506.72" y="713.03" width="89.48" height="16.5" fill="#7a5018"/>
<text x="2106.00" y="755.16" fill="#7e6428" stroke="#7e6428" font-size="22.55" text-anchor="end">Iranian Bandari</text>
<rect x="2129.00" y="738.81" width="222.08" height="16.5" fill="#a6a65c"/>
<rect x="2350.78" y="738.81" width="64.27" height="16.5" fill="#97962e"/>
<rect x="2414.74" y="738.81" width="63.80" height="16.5" fill="#7a5018"/>
<rect x="2478.24" y="738.81" width="20.38" height="16.5" fill="#d878f0"/>
<rect x="2498.32" y="738.81" width="97.88" height="16.5" fill="#8a6448"/>
<text x="2106.00" y="780.94" fill="#868686" stroke="#868686" font-size="22.55" text-anchor="end">Turkmen South</text>
<rect x="2129.00" y="764.59" width="168.85" height="16.5" fill="#a6a65c"/>
<rect x="2297.55" y="764.59" width="46.06" height="16.5" fill="#97962e"/>
<rect x="2343.31" y="764.59" width="109.09" height="16.5" fill="#7a5018"/>
<rect x="2452.09" y="764.59" width="31.58" height="16.5" fill="#eeb855"/>
<rect x="2483.38" y="764.59" width="26.91" height="16.5" fill="#d4962f"/>
<rect x="2509.99" y="764.59" width="4.97" height="16.5" fill="#4a12c0"/>
<rect x="2514.66" y="764.59" width="81.54" height="16.5" fill="#8418a4"/>
<text x="2106.00" y="806.72" fill="#7e6428" stroke="#7e6428" font-size="22.55" text-anchor="end">Tajik Kulob</text>
<rect x="2129.00" y="790.37" width="109.09" height="16.5" fill="#a6a65c"/>
<rect x="2237.79" y="790.37" width="28.31" height="16.5" fill="#97962e"/>
<rect x="2265.80" y="790.37" width="85.28" height="16.5" fill="#7a5018"/>
<rect x="2350.78" y="790.37" width="56.33" height="16.5" fill="#eeb855"/>
<rect x="2406.81" y="790.37" width="95.55" height="16.5" fill="#d878f0"/>
<rect x="2502.05" y="790.37" width="12.91" height="16.5" fill="#8a6448"/>
<rect x="2514.66" y="790.37" width="6.37" height="16.5" fill="#9a9870"/>
<rect x="2520.73" y="790.37" width="22.24" height="16.5" fill="#d4962f"/>
<rect x="2542.67" y="790.37" width="53.53" height="16.5" fill="#8418a4"/>
<path d="M2175.69 662.40V832.82M2222.38 662.40V832.82M2269.07 662.40V832.82M2315.76 662.40V832.82M2362.45 662.40V832.82M2409.14 662.40V832.82M2455.83 662.40V832.82M2502.52 662.40V832.82M2549.21 662.40V832.82M2595.90 662.40V832.82M2129.00 662.40V832.82" stroke="#000" stroke-opacity="0.62" stroke-width="1.3" fill="none"/>
<text x="2131.50" y="855.62" fill="#222" stroke="#222" font-size="16.1" text-anchor="middle">0%</text>
<text x="2178.39" y="855.62" fill="#222" stroke="#222" font-size="16.1" text-anchor="middle">10%</text>
<text x="2225.28" y="855.62" fill="#222" stroke="#222" font-size="16.1" text-anchor="middle">20%</text>
<text x="2272.17" y="855.62" fill="#222" stroke="#222" font-size="16.1" text-anchor="middle">30%</text>
<text x="2319.06" y="855.62" fill="#222" stroke="#222" font-size="16.1" text-anchor="middle">40%</text>
<text x="2365.95" y="855.62" fill="#222" stroke="#222" font-size="16.1" text-anchor="middle">50%</text>
<text x="2412.84" y="855.62" fill="#222" stroke="#222" font-size="16.1" text-anchor="middle">60%</text>
<text x="2459.73" y="855.62" fill="#222" stroke="#222" font-size="16.1" text-anchor="middle">70%</text>
<text x="2506.62" y="855.62" fill="#222" stroke="#222" font-size="16.1" text-anchor="middle">80%</text>
<text x="2553.51" y="855.62" fill="#222" stroke="#222" font-size="16.1" text-anchor="middle">90%</text>
<text x="2600.40" y="855.62" fill="#222" stroke="#222" font-size="16.1" text-anchor="middle">100%</text>
<text x="2364.45" y="881.25" fill="#151515" stroke="#151515" font-size="22.55" text-anchor="middle">BMAC:</text>
<path d="M2175.69 894.50V961.80M2222.38 894.50V961.80M2269.07 894.50V961.80M2315.76 894.50V961.80M2362.45 894.50V961.80M2409.14 894.50V961.80M2455.83 894.50V961.80M2502.52 894.50V961.80M2549.21 894.50V961.80" stroke="#1c1c1c" stroke-width="1.25" fill="none"/>
<rect x="2129.00" y="894.50" width="466.90" height="67.30" stroke="#1c1c1c" stroke-width="1.55" fill="none"/>
<text x="2106.00" y="935.70" fill="#7e6428" stroke="#7e6428" font-size="22.55" text-anchor="end">Iranian Mazandarani</text>
<rect x="2129.00" y="919.35" width="275.77" height="16.5" fill="#97962e"/>
<rect x="2404.47" y="919.35" width="144.11" height="16.5" fill="#a6a65c"/>
<rect x="2548.28" y="919.35" width="47.92" height="16.5" fill="#7a5018"/>
<path d="M2175.69 894.50V961.80M2222.38 894.50V961.80M2269.07 894.50V961.80M2315.76 894.50V961.80M2362.45 894.50V961.80M2409.14 894.50V961.80M2455.83 894.50V961.80M2502.52 894.50V961.80M2549.21 894.50V961.80M2595.90 894.50V961.80M2129.00 894.50V961.80" stroke="#000" stroke-opacity="0.62" stroke-width="1.3" fill="none"/>
<text x="2131.50" y="984.60" fill="#222" stroke="#222" font-size="16.1" text-anchor="middle">0%</text>
<text x="2178.39" y="984.60" fill="#222" stroke="#222" font-size="16.1" text-anchor="middle">10%</text>
<text x="2225.28" y="984.60" fill="#222" stroke="#222" font-size="16.1" text-anchor="middle">20%</text>
<text x="2272.17" y="984.60" fill="#222" stroke="#222" font-size="16.1" text-anchor="middle">30%</text>
<text x="2319.06" y="984.60" fill="#222" stroke="#222" font-size="16.1" text-anchor="middle">40%</text>
<text x="2365.95" y="984.60" fill="#222" stroke="#222" font-size="16.1" text-anchor="middle">50%</text>
<text x="2412.84" y="984.60" fill="#222" stroke="#222" font-size="16.1" text-anchor="middle">60%</text>
<text x="2459.73" y="984.60" fill="#222" stroke="#222" font-size="16.1" text-anchor="middle">70%</text>
<text x="2506.62" y="984.60" fill="#222" stroke="#222" font-size="16.1" text-anchor="middle">80%</text>
<text x="2553.51" y="984.60" fill="#222" stroke="#222" font-size="16.1" text-anchor="middle">90%</text>
<text x="2600.40" y="984.60" fill="#222" stroke="#222" font-size="16.1" text-anchor="middle">100%</text>
<text x="15.00" y="30.50" fill="#151515" stroke="#151515" font-size="22.55">Modern/Subdivisions/3</text>
<text x="77.80" y="92.40" fill="#151515" stroke="#151515" font-size="22.55">Languages:</text>
<text x="77.80" y="143.92" fill="#868686" stroke="#868686" font-size="22.55">Non Indo-European</text>
<text x="77.80" y="195.44" fill="#151515" stroke="#151515" font-size="22.55">Indo-European:</text>
<text x="77.80" y="246.96" fill="#b04a3e" stroke="#b04a3e" font-size="22.55">Slavic</text>
<text x="77.80" y="272.72" fill="#4a2498" stroke="#4a2498" font-size="22.55">Baltic</text>
<text x="77.80" y="298.48" fill="#5e5026" stroke="#5e5026" font-size="22.55">Iranian</text>
<text x="77.80" y="324.24" fill="#cf90d8" stroke="#cf90d8" font-size="22.55">Indo-Aryan</text>
<text x="77.80" y="350.00" fill="#468c9c" stroke="#468c9c" font-size="22.55">Graeco-Albanian</text>
<text x="77.80" y="375.76" fill="#2f5258" stroke="#2f5258" font-size="22.55">Armenian</text>
<text x="77.80" y="401.52" fill="#c4864a" stroke="#c4864a" font-size="22.55">Italic</text>
<text x="77.80" y="427.28" fill="#96de6e" stroke="#96de6e" font-size="22.55">Celtic</text>
<text x="77.80" y="453.04" fill="#1e1e80" stroke="#1e1e80" font-size="22.55">Germanic</text>
<text x="108.80" y="531.90" fill="#151515" stroke="#151515" font-size="22.55">Ancestry:</text>
<text x="109.20" y="583.46" fill="#151515" stroke="#151515" font-size="22.55">Indo-European:</text>
<text x="109.30" y="635.02" fill="#151515" stroke="#151515" font-size="22.55">Proto-Slavic</text>
<rect x="67.40" y="618.42" width="17.1" height="17.1" fill="#df3a25"/>
<text x="109.18" y="660.80" fill="#151515" stroke="#151515" font-size="22.55">Proto-Baltic</text>
<rect x="67.25" y="644.20" width="17.1" height="17.1" fill="#9159e6"/>
<text x="109.06" y="686.58" fill="#151515" stroke="#151515" font-size="22.55">Proto-Germanic</text>
<rect x="67.10" y="669.98" width="17.1" height="17.1" fill="#0c0cd6"/>
<text x="108.94" y="712.36" fill="#151515" stroke="#151515" font-size="22.55">Proto-Celtic</text>
<rect x="66.95" y="695.76" width="17.1" height="17.1" fill="#66c832"/>
<text x="108.82" y="738.14" fill="#151515" stroke="#151515" font-size="22.55">Proto-Italic</text>
<rect x="66.80" y="721.54" width="17.1" height="17.1" fill="#e27a2e"/>
<text x="108.70" y="763.92" fill="#151515" stroke="#151515" font-size="22.55">Early Graeco-Albanian</text>
<rect x="66.65" y="747.32" width="17.1" height="17.1" fill="#50b4e8"/>
<text x="108.58" y="789.70" fill="#151515" stroke="#151515" font-size="22.55">Proto-Armenian</text>
<rect x="66.50" y="773.10" width="17.1" height="17.1" fill="#225a5e"/>
<text x="108.46" y="815.48" fill="#151515" stroke="#151515" font-size="22.55">Proto-Iranian</text>
<rect x="66.35" y="798.88" width="17.1" height="17.1" fill="#7a4e12"/>
<text x="108.34" y="841.26" fill="#151515" stroke="#151515" font-size="22.55">Proto-Indo-Aryan</text>
<rect x="66.20" y="824.66" width="17.1" height="17.1" fill="#dc78ec"/>
<text x="108.22" y="867.04" fill="#151515" stroke="#151515" font-size="22.55">Tocharian</text>
<rect x="66.05" y="850.44" width="17.1" height="17.1" fill="#5858ea"/>
<text x="108.10" y="892.82" fill="#151515" stroke="#151515" font-size="22.55">Pre-Greek Anatolian</text>
<rect x="65.90" y="876.22" width="17.1" height="17.1" fill="#b07a5a"/>
<text x="108.00" y="944.38" fill="#151515" stroke="#151515" font-size="22.55">Other Indo-European and European:</text>
<text x="108.00" y="995.94" fill="#151515" stroke="#151515" font-size="22.55">Andronovo</text>
<rect x="65.40" y="979.34" width="17.1" height="17.1" fill="#d2932c"/>
<text x="108.00" y="1021.72" fill="#151515" stroke="#151515" font-size="22.55">Pre-Iranian Southern Central Asia</text>
<rect x="65.40" y="1005.12" width="17.1" height="17.1" fill="#edb24c"/>
<text x="108.00" y="1047.50" fill="#151515" stroke="#151515" font-size="22.55">Baltic Bronze Age</text>
<rect x="65.40" y="1030.90" width="17.1" height="17.1" fill="#c3b2f0"/>
<text x="108.00" y="1073.28" fill="#151515" stroke="#151515" font-size="22.55">Pomeranian</text>
<rect x="65.40" y="1056.68" width="17.1" height="17.1" fill="#dc9aea"/>
<text x="108.00" y="1099.06" fill="#151515" stroke="#151515" font-size="22.55">Ireland and Brittany Bronze Age</text>
<rect x="65.40" y="1082.46" width="17.1" height="17.1" fill="#ecd5c8"/>
<text x="108.00" y="1124.84" fill="#151515" stroke="#151515" font-size="22.55">Britain South Bronze Age</text>
<rect x="65.40" y="1108.24" width="17.1" height="17.1" fill="#e8cbbd"/>
<text x="108.00" y="1150.62" fill="#151515" stroke="#151515" font-size="22.55">France North Bronze Age</text>
<rect x="65.40" y="1134.02" width="17.1" height="17.1" fill="#e6b898"/>
<text x="108.00" y="1176.40" fill="#151515" stroke="#151515" font-size="22.55">France South Bronze Age</text>
<rect x="65.40" y="1159.80" width="17.1" height="17.1" fill="#e08a88"/>
<text x="108.00" y="1202.18" fill="#151515" stroke="#151515" font-size="22.55">Pyrenees Bronze Age</text>
<rect x="65.40" y="1185.58" width="17.1" height="17.1" fill="#a8584a"/>
<text x="108.00" y="1227.96" fill="#151515" stroke="#151515" font-size="22.55">Iberia Bronze Age</text>
<rect x="65.40" y="1211.36" width="17.1" height="17.1" fill="#8a2818"/>
<text x="108.00" y="1253.74" fill="#151515" stroke="#151515" font-size="22.55">Paleo-Sardinian</text>
<rect x="65.40" y="1237.14" width="17.1" height="17.1" fill="#581810"/>
<text x="108.00" y="1279.52" fill="#151515" stroke="#151515" font-size="22.55">Pre-Graeco-Albanian Greece</text>
<rect x="65.40" y="1262.92" width="17.1" height="17.1" fill="#a87880"/>
<text x="108.00" y="1331.08" fill="#151515" stroke="#151515" font-size="22.55">Uralic and Paleo-Laplandic:</text>
<text x="108.00" y="1382.64" fill="#151515" stroke="#151515" font-size="22.55">Proto-Kamas-Selkup</text>
<rect x="65.40" y="1366.04" width="17.1" height="17.1" fill="#7a7890"/>
<text x="108.00" y="1408.42" fill="#151515" stroke="#151515" font-size="22.55">Proto-Ugric</text>
<rect x="65.40" y="1391.82" width="17.1" height="17.1" fill="#2d3078"/>
<text x="108.00" y="1434.20" fill="#151515" stroke="#151515" font-size="22.55">Paleo-Laplandic</text>
<rect x="65.40" y="1417.60" width="17.1" height="17.1" fill="#1c2690"/>
<text x="108.00" y="1459.98" fill="#151515" stroke="#151515" font-size="22.55">Pre-Baltic Finnic Archangelsk</text>
<rect x="65.40" y="1443.38" width="17.1" height="17.1" fill="#5258a8"/>
<text x="108.00" y="1485.76" fill="#151515" stroke="#151515" font-size="22.55">Proto-Permic</text>
<rect x="65.40" y="1469.16" width="17.1" height="17.1" fill="#7878e0"/>
<text x="108.00" y="1511.54" fill="#151515" stroke="#151515" font-size="22.55">Proto-Volga Finnic</text>
<rect x="65.40" y="1494.94" width="17.1" height="17.1" fill="#62aedc"/>
<text x="108.00" y="1537.32" fill="#151515" stroke="#151515" font-size="22.55">Proto-Finno-Saamic</text>
<rect x="65.40" y="1520.72" width="17.1" height="17.1" fill="#a8c8dc"/>
<text x="508.80" y="1407.25" fill="#151515" stroke="#151515" font-size="22.55">East  Asian:</text>
<text x="508.80" y="1458.50" fill="#151515" stroke="#151515" font-size="22.55">Baikal Bronze Age</text>
<rect x="465.40" y="1441.90" width="17.1" height="17.1" fill="#4a14b4"/>
<text x="508.80" y="1484.25" fill="#151515" stroke="#151515" font-size="22.55">Proto-Turkic</text>
<rect x="465.40" y="1467.65" width="17.1" height="17.1" fill="#7a169c"/>
<text x="508.80" y="1509.75" fill="#151515" stroke="#151515" font-size="22.55">Proto-Mongolic</text>
<rect x="465.40" y="1493.15" width="17.1" height="17.1" fill="#64406e"/>
<text x="508.80" y="1535.50" fill="#151515" stroke="#151515" font-size="22.55">Tibetan</text>
<rect x="465.40" y="1518.90" width="17.1" height="17.1" fill="#86589a"/>
<text x="909.50" y="1354.00" fill="#151515" stroke="#151515" font-size="22.55">Pre-Indo-Iranian Asia:</text>
<text x="909.50" y="1405.50" fill="#151515" stroke="#151515" font-size="22.55">BMAC</text>
<rect x="866.15" y="1388.90" width="17.1" height="17.1" fill="#8a8620"/>
<text x="909.50" y="1431.00" fill="#151515" stroke="#151515" font-size="22.55">Pre-Iranian Zagros</text>
<rect x="866.15" y="1414.40" width="17.1" height="17.1" fill="#a0a050"/>
<text x="909.50" y="1456.75" fill="#151515" stroke="#151515" font-size="22.55">Pre-Indo-Iranian Hindu Kush</text>
<rect x="866.15" y="1440.15" width="17.1" height="17.1" fill="#86604a"/>
<text x="909.50" y="1482.75" fill="#151515" stroke="#151515" font-size="22.55">Dravidian</text>
<rect x="866.15" y="1466.15" width="17.1" height="17.1" fill="#4e4c3c"/>
<text x="909.50" y="1508.50" fill="#151515" stroke="#151515" font-size="22.55">Pre-Indo-Aryan Himalayas</text>
<rect x="866.15" y="1491.90" width="17.1" height="17.1" fill="#8e8c68"/>
<text x="909.50" y="1534.25" fill="#151515" stroke="#151515" font-size="22.55">Austroasiatic Bengal</text>
<rect x="866.15" y="1517.65" width="17.1" height="17.1" fill="#b4b08c"/>
<text x="1310.00" y="1378.50" fill="#151515" stroke="#151515" font-size="22.55">Caucasus:</text>
<text x="1310.50" y="1429.75" fill="#151515" stroke="#151515" font-size="22.55">Pre-Sarmatian Circassian</text>
<rect x="1266.65" y="1413.15" width="17.1" height="17.1" fill="#9cc880"/>
<text x="1310.50" y="1455.50" fill="#151515" stroke="#151515" font-size="22.55">Pre-Sarmatian Nakh</text>
<rect x="1266.65" y="1438.90" width="17.1" height="17.1" fill="#5e7e50"/>
<text x="1310.50" y="1481.50" fill="#151515" stroke="#151515" font-size="22.55">Dagestanian</text>
<rect x="1266.65" y="1464.90" width="17.1" height="17.1" fill="#488228"/>
<text x="1310.50" y="1507.25" fill="#151515" stroke="#151515" font-size="22.55">Urartian</text>
<rect x="1266.65" y="1490.65" width="17.1" height="17.1" fill="#80cc68"/>
<text x="1310.50" y="1533.00" fill="#151515" stroke="#151515" font-size="22.55">Pre-Iranian Azerbaijan</text>
<rect x="1266.65" y="1516.40" width="17.1" height="17.1" fill="#9ccc90"/>
<text x="1710.50" y="1454.00" fill="#151515" stroke="#151515" font-size="22.55">Roman Middle-Eastern:</text>
<text x="1710.50" y="1505.50" fill="#151515" stroke="#151515" font-size="22.55">Roman Middle Eastern</text>
<rect x="1666.65" y="1488.90" width="17.1" height="17.1" fill="#a89830"/>
<text x="1710.50" y="1531.00" fill="#151515" stroke="#151515" font-size="22.55">Roman Middle Eastern and North African</text>
<rect x="1666.65" y="1514.40" width="17.1" height="17.1" fill="#c8c070"/>
<text x="2278.20" y="1427.25" fill="#151515" stroke="#151515" font-size="22.55">Colonial:</text>
<text x="2278.20" y="1478.50" fill="#151515" stroke="#151515" font-size="22.55">Sub-Saharan African</text>
<rect x="2235.40" y="1461.90" width="17.1" height="17.1" fill="#000000"/>
<text x="2278.20" y="1504.25" fill="#151515" stroke="#151515" font-size="22.55">Native American</text>
<rect x="2235.40" y="1487.65" width="17.1" height="17.1" fill="#8a1cc8"/>
<text x="2278.20" y="1530.25" fill="#151515" stroke="#151515" font-size="22.55">Guanche</text>
<rect x="2235.40" y="1513.65" width="17.1" height="17.1" fill="#c8c484"/>
</svg>
</body></html>
